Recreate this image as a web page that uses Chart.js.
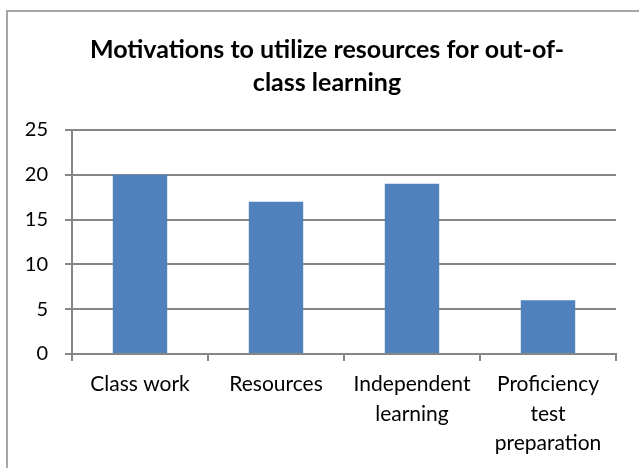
<!DOCTYPE html>
<html>
<head>
<meta charset="utf-8">
<script src="https://cdn.jsdelivr.net/npm/chart.js@4/dist/chart.umd.min.js"></script>
<style>
  html, body { margin: 0; padding: 0; background: #ffffff; }
  #wrap { position: relative; width: 639px; height: 468px; overflow: hidden; }
  #frame { position: absolute; left: 6px; top: 10px; width: 700px; height: 500px;
           border-top: 2px solid #a6a6a6; border-left: 2px solid #a6a6a6; box-sizing: border-box; }
  canvas { position: absolute; left: 0; top: 0; }
</style>
</head>
<body>
<div id="wrap">
  <div id="frame"></div>
  <canvas id="c" width="639" height="468"></canvas>
</div>
<script>
const titleLines = ["Motivations to utilize resources for out-of-", "class learning"];
const categories = [["Class work"], ["Resources"], ["Independent", "learning"], ["Proficiency", "test", "preparation"]];
const values = [20, 17, 19, 6];
const yTicks = { min: 0, max: 25, step: 5 };

const FONT = "Lato, 'Open Sans', sans-serif";
const GRID = "#868686";

const shiftTitle = {
  id: "shiftTitle",
  afterLayout(chart) {
    if (chart.titleBlock) { chart.titleBlock.left = 38; }
  }
};

new Chart(document.getElementById("c"), {
  type: "bar",
  data: {
    labels: categories,
    datasets: [{
      data: values,
      backgroundColor: "#4f81bd",
      borderWidth: 0,
      categoryPercentage: 1.0,
      barPercentage: 0.4
    }]
  },
  plugins: [shiftTitle],
  options: {
    responsive: false,
    animation: false,
    devicePixelRatio: 1,
    layout: { padding: { left: 0, right: 23, top: 0, bottom: 0 } },
    plugins: {
      legend: { display: false },
      tooltip: { enabled: false },
      title: {
        display: true,
        text: titleLines,
        color: "#000000",
        font: { family: FONT, size: 25, weight: "bold", lineHeight: 1.32 },
        padding: { top: 33, bottom: 31 }
      }
    },
    scales: {
      x: {
        grid: { display: true, drawOnChartArea: false, drawTicks: true, tickLength: 7, color: GRID, lineWidth: 2, offset: true },
        border: { display: true, color: GRID, width: 2 },
        ticks: { color: "#000000", font: { family: FONT, size: 21, lineHeight: 1.4 }, padding: 9, maxRotation: 0, autoSkip: false },
        afterFit: (s) => { s.height = 114; }
      },
      y: {
        min: yTicks.min, max: yTicks.max,
        grid: { color: GRID, lineWidth: 2, tickLength: 7, drawTicks: true },
        border: { display: true, color: GRID, width: 2 },
        ticks: { stepSize: yTicks.step, color: "#000000", font: { family: FONT, size: 20 }, padding: 17 },
        afterFit: (s) => { s.width = 72; }
      }
    }
  }
});
</script>
</body>
</html>
